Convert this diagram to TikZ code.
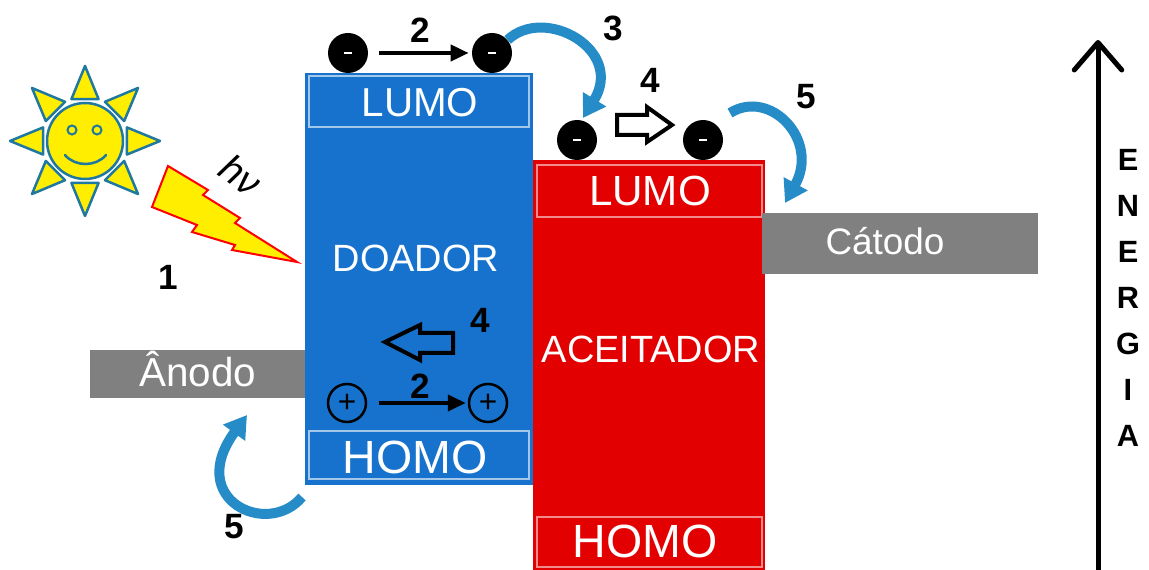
\documentclass[tikz,border=0pt]{standalone}
\usepackage{fontspec}
\setmainfont{Liberation Sans}
\usetikzlibrary{arrows.meta}
\definecolor{doador}{RGB}{22,114,204}
\definecolor{aceitador}{RGB}{226,0,0}
\definecolor{eletrodo}{RGB}{128,128,128}
\definecolor{seta}{RGB}{38,140,200}
\definecolor{solborda}{RGB}{30,120,160}
\definecolor{solamarelo}{RGB}{255,238,0}
\begin{document}
\begin{tikzpicture}[x=0.02cm, y=-0.02cm,
    nivel/.style={text=white, inner sep=0pt},
    eletron/.style={circle, fill=black, minimum size=0.8cm, inner sep=0pt, text=white},
    lacuna/.style={circle, draw=black, line width=0.05cm, minimum size=0.76cm, inner sep=0pt, font=\fontsize{18}{18}\selectfont},
    numero/.style={font=\bfseries\fontsize{20}{20}\selectfont},
    passo/.style={line width=0.08cm, -{Triangle[length=0.36cm, width=0.32cm]}},
    curva/.style={seta, line width=0.2cm, -{Triangle[length=0.44cm, width=0.52cm]}},
    oca/.style={draw=black, line width=0.08cm, line join=miter},
    sol/.style={fill=solamarelo, draw=solborda, line width=0.05cm, line join=round}]
\useasboundingbox (0,0) rectangle (1149,570);
% doador
\fill[doador] (305,73) rectangle (533,485);
\draw[white!60!doador, line width=0.03cm] (309,76) rectangle (529,127);
\draw[white!60!doador, line width=0.03cm] (309,431) rectangle (529,479);
\node[nivel, font=\fontsize{23}{23}\selectfont] (lumod) at (420,103) {LUMO};
\node[nivel, font=\fontsize{26.5}{26.5}\selectfont] (homod) at (415,457) {HOMO};
\node[nivel, font=\fontsize{21.6}{21.6}\selectfont] (doa) at (416,258) {DOADOR};
% aceitador
\fill[aceitador] (533,160) rectangle (765,575);
\draw[white!55!aceitador, line width=0.03cm] (537,165) rectangle (762,217);
\draw[white!55!aceitador, line width=0.03cm] (537,517) rectangle (762,567);
\node[nivel, font=\fontsize{24}{24}\selectfont] (lumoa) at (650,191) {LUMO};
\node[nivel, font=\fontsize{26.5}{26.5}\selectfont] (homoa) at (645,541) {HOMO};
\node[nivel, font=\fontsize{21.6}{21.6}\selectfont] (acei) at (651,349) {ACEITADOR};
% eletrodos
\fill[eletrodo] (90,350) rectangle (305,398);
\fill[eletrodo] (762,213) rectangle (1038,274);
\node[nivel, anchor=base, font=\fontsize{23}{23}\selectfont] (anodo) at (198,387) {Ânodo};
\node[nivel, anchor=base, font=\fontsize{21}{21}\selectfont] (catodo) at (885,255) {Cátodo};
% sol
\begin{scope}[shift={(85,141)}]
  \foreach \a in {0,45,...,315}
    \filldraw[sol] (\a:75) -- (\a+18:44) -- (\a-18:44) -- cycle;
  \filldraw[sol] (0,0) circle (38);
  \draw[solborda, line width=0.04cm] (-13,-11) circle (4.5);
  \draw[solborda, line width=0.04cm] (12,-11) circle (4.5);
  \draw[solborda, line width=0.05cm, line cap=round] (-20,14) .. controls (-10,26) and (11,26) .. (21,14);
\end{scope}
\filldraw[fill=solamarelo, draw=red, line width=0.04cm, line join=miter] (168,166) -- (208,190) -- (203,195) -- (240,218) -- (235,223) -- (297,262) -- (232,250) -- (235,245) -- (192,232) -- (197,225) -- (152,207) -- cycle;
\node[rotate=-35, inner sep=1pt, font=\itshape\fontsize{22}{22}\selectfont] (hv) at (241,175) {hν};
% eletrons e lacunas
\node[eletron] (e1) at (348,53) {\rule{0.16cm}{0.05cm}};
\node[eletron] (e2) at (492,53) {\rule{0.16cm}{0.05cm}};
\node[eletron] (e3) at (577,140) {\rule{0.16cm}{0.05cm}};
\node[eletron] (e4) at (703,140) {\rule{0.16cm}{0.05cm}};
\node[lacuna] (h1) at (347,403) {+};
\node[lacuna] (h2) at (488,403) {+};
\draw[passo, shorten <=0.22cm, shorten >=0.06cm] (e1) -- (e2);
\draw[passo, shorten <=0.24cm, shorten >=0.04cm] (h1) -- (h2);
\coordinate (t5) at (730,113);
\coordinate (p5) at (785,203);
\coordinate (t5b) at (302,497);
\coordinate (p5b) at (247,415);
\draw[curva] (e2.40) .. controls (545,5) and (625,50) .. (583,118);
\draw[curva] (t5) .. controls (770,88) and (820,140) .. (p5);
\draw[curva] (t5b) .. controls (268,538) and (185,500) .. (p5b);
% setas ocas
\draw[oca] (617,115) -- (647,115) -- (647,107) -- (672,125) -- (647,142) -- (647,135) -- (617,135) -- cycle;
\draw[oca] (453,333) -- (420,333) -- (420,325) -- (385,342) -- (420,360) -- (420,353) -- (453,353) -- cycle;
% numeros
\node[numero] (n1) at (168,277) {1};
\node[numero] (n2) at (420,30) {2};
\node[numero] (n2b) at (420,386) {2};
\node[numero] (n3) at (613,28) {3};
\node[numero] (n4) at (650,80) {4};
\node[numero] (n4b) at (480,320) {4};
\node[numero] (n5) at (806,97) {5};
\node[numero] (n5b) at (234,527) {5};
% energia
\coordinate (ebase) at (1098,575);
\coordinate (etopo) at (1098,40);
\draw[line width=0.1cm, -{Straight Barb[length=0.55cm, width=0.95cm, round]}] (ebase) -- (etopo);
\foreach \l [count=\i] in {E,N,E,R,G,I,A}
  \node[font=\bfseries\fontsize{17.5}{17.5}\selectfont] (en\i) at (1128,114+46*\i) {\l};
\end{tikzpicture}
\end{document}
